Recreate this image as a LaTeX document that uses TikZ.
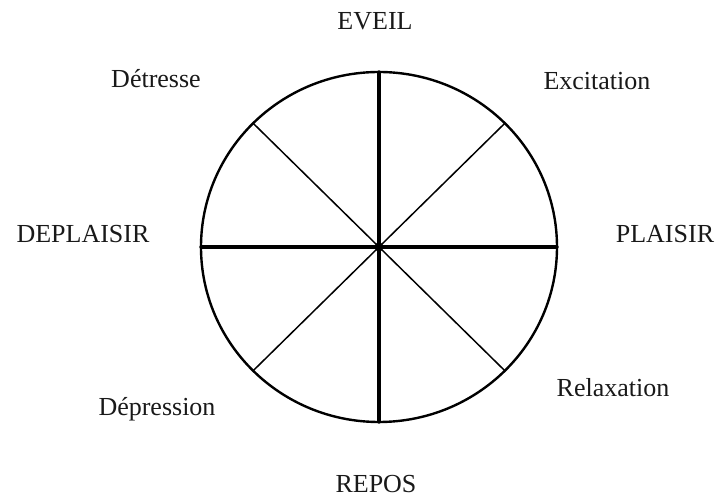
\documentclass[tikz,border=0pt]{standalone}
\usepackage{fontspec}
\setmainfont{Liberation Serif}

\tikzset{
  axe/.style={line width=3.4pt},
  rayon/.style={line width=1.5pt},
  etiquette/.style={anchor=base, text=black!90, font=\fontsize{26}{30}\selectfont}
}

\begin{document}
\begin{tikzpicture}[x=1pt, y=1pt, line cap=round]
  \useasboundingbox (-379,-253) rectangle (345,247);

  \coordinate (O) at (0,0);
  \coordinate (haut) at (90:178pt and 175pt);
  \coordinate (bas) at (270:178pt and 175pt);
  \coordinate (gauche) at (180:178pt and 175pt);
  \coordinate (droite) at (0:178pt and 175pt);

  % diagonales
  \foreach \a in {45,135,225,315}
    \draw[rayon] (O) -- (\a:178pt and 175pt);

  \draw[axe] (haut) -- (bas);
  \draw[axe] (gauche) -- (droite);
  \draw[line width=2.4pt] (O) ellipse [x radius=178pt, y radius=175pt];
  \fill (O) circle (4.5pt);

  \node[etiquette] (eveil) at (-4,217) {EVEIL};
  \node[etiquette] (repos) at (-3,-246) {REPOS};
  \node[etiquette] (deplaisir) at (-296,4) {DEPLAISIR};
  \node[etiquette] (plaisir) at (286,4) {PLAISIR};
  \node[etiquette] (detresse) at (-223,159) {Détresse};
  \node[etiquette] (excitation) at (218,157) {Excitation};
  \node[etiquette] (depression) at (-222,-169) {Dépression};
  \node[etiquette] (relaxation) at (234,-150) {Relaxation};
\end{tikzpicture}
\end{document}
